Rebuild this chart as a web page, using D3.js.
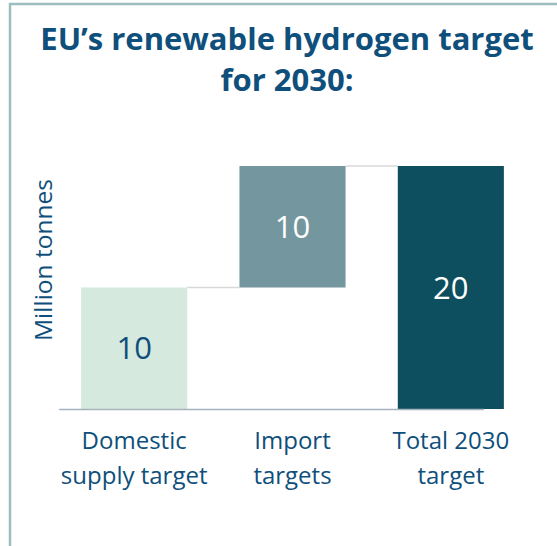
<!DOCTYPE html>
<html>
<head>
<meta charset="utf-8">
<script src="https://cdn.jsdelivr.net/npm/d3@7"></script>
<style>
  body { margin: 0; background: #fff; }
  svg { display: block; }
  text { font-family: "Open Sans", "Lato", sans-serif; }
</style>
</head>
<body>
<div id="chart"></div>
<script>
// données
const categories = [["Domestic", "supply target"], ["Import", "targets"], ["Total 2030", "target"]];
const valeurs = [10, 10, 20];
const estTotal = [false, false, true];
const couleurs = ["#d6e9de", "#74979f", "#0d4f5e"];
const couleursTexte = ["#0f4f7b", "#ffffff", "#ffffff"];
const titre = ["EU\u2019s renewable hydrogen target", "for 2030:"];
const labelY = "Million tonnes";

const width = 557, height = 546;
const bleu = "#0f4f7b";

const svg = d3.select("#chart").append("svg")
    .attr("width", width)
    .attr("height", height);

// cadre (haut + gauche)
svg.append("path")
    .attr("d", "M10," + height + " V4 H" + width)
    .attr("fill", "none")
    .attr("stroke", "#9dbdbf")
    .attr("stroke-width", 2.5);

// titre
svg.selectAll(".titre")
    .data(titre)
    .join("text")
    .attr("class", "titre")
    .attr("x", 287)
    .attr("y", (d, i) => 50 + i * 41)
    .attr("text-anchor", "middle")
    .attr("font-size", 31)
    .attr("font-weight", "bold")
    .attr("fill", "#0f4f7b")
    .text(d => d);

// calcul cascade
let cumul = 0;
const barres = valeurs.map((v, i) => {
    let bas, haut;
    if (estTotal[i]) { bas = 0; haut = v; }
    else { bas = cumul; haut = cumul + v; cumul = haut; }
    return { i: i, v: v, bas: bas, haut: haut };
});

const echelleX = d3.scaleBand()
    .domain(d3.range(categories.length))
    .range([55, 530])
    .paddingInner(0.33)
    .paddingOuter(0.165);

const echelleY = d3.scaleLinear()
    .domain([0, 20])
    .range([409, 166]);

// lignes de liaison
for (let i = 0; i < barres.length - 1; i++) {
    svg.append("line")
        .attr("x1", echelleX(i) + echelleX.bandwidth())
        .attr("x2", echelleX(i + 1))
        .attr("y1", echelleY(barres[i].haut))
        .attr("y2", echelleY(barres[i].haut))
        .attr("stroke", "#d9d9d9")
        .attr("stroke-width", 1.5);
}

svg.selectAll(".barre")
    .data(barres)
    .join("rect")
    .attr("class", "barre")
    .attr("x", d => echelleX(d.i))
    .attr("width", echelleX.bandwidth())
    .attr("y", d => echelleY(d.haut))
    .attr("height", d => echelleY(d.bas) - echelleY(d.haut))
    .attr("fill", d => couleurs[d.i]);

// axe x
svg.append("line")
    .attr("x1", echelleX(0) - 22)
    .attr("x2", echelleX(2) + echelleX.bandwidth() - 20)
    .attr("y1", echelleY(0) + 0.5)
    .attr("y2", echelleY(0) + 0.5)
    .attr("stroke", "#a6b3bf")
    .attr("stroke-width", 1.5);

// valeurs
svg.selectAll(".valeur")
    .data(barres)
    .join("text")
    .attr("class", "valeur")
    .attr("x", d => echelleX(d.i) + echelleX.bandwidth() / 2)
    .attr("y", d => (echelleY(d.haut) + echelleY(d.bas)) / 2)
    .attr("dy", "0.36em")
    .attr("text-anchor", "middle")
    .attr("font-size", 31)
    .attr("fill", d => couleursTexte[d.i])
    .text(d => d.v);

// catégories
const cat = svg.selectAll(".cat")
    .data(categories)
    .join("text")
    .attr("class", "cat")
    .attr("text-anchor", "middle")
    .attr("font-size", 24)
    .attr("fill", bleu);
cat.selectAll("tspan")
    .data((d, i) => d.map(l => ({ l: l, i: i })))
    .join("tspan")
    .attr("x", d => echelleX(d.i) + echelleX.bandwidth() / 2)
    .attr("y", (d, j) => 449 + j * 35)
    .text(d => d.l);

// titre axe y
svg.append("text")
    .attr("transform", "translate(52,260) rotate(-90)")
    .attr("text-anchor", "middle")
    .attr("font-size", 24.5)
    .attr("fill", bleu)
    .text(labelY);
</script>
</body>
</html>
